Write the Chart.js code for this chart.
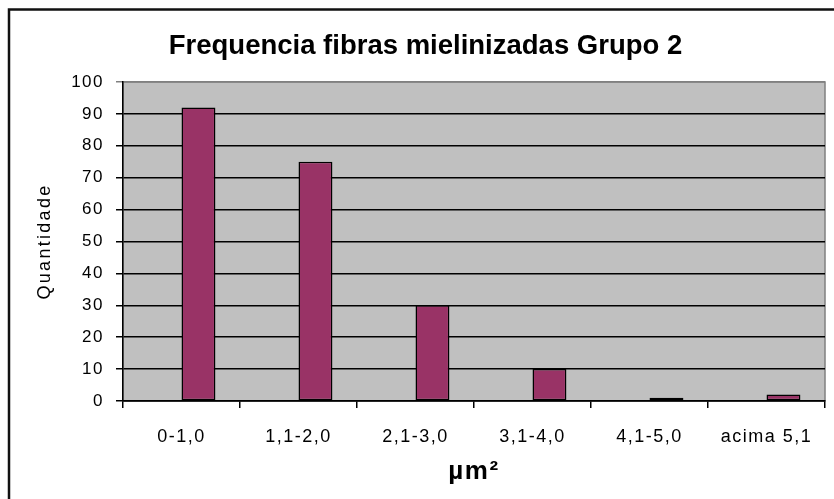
<!DOCTYPE html>
<html>
<head>
<meta charset="utf-8">
<script src="https://cdn.jsdelivr.net/npm/chart.js@4/dist/chart.umd.min.js"></script>
<style>
html,body{margin:0;padding:0;background:#fff;}
#wrap{width:834px;height:499px;position:relative;}
</style>
</head>
<body>
<div id="wrap"><canvas id="c" width="834" height="499"></canvas></div>
<script>
const chartTitle = "Frequencia fibras mielinizadas Grupo 2";
const categories = ["0-1,0", "1,1-2,0", "2,1-3,0", "3,1-4,0", "4,1-5,0", "acima 5,1"];
const quantidade = [92, 75, 30, 10, 1, 2];
const emptySeries = [null, null, null, null, null, null];
const yTicks = [0, 10, 20, 30, 40, 50, 60, 70, 80, 90, 100];
const xTitle = "µm²";
const yTitle = "Quantidade";

const FONT = "'Liberation Sans', Arial, sans-serif";

function withSpacing(obj, name, spacing, dx){
  if (!obj || obj['_wrapped_' + name]) return;
  const orig = obj[name].bind(obj);
  obj[name] = function(...args){
    const ctx = this.ctx || (this.chart && this.chart.ctx);
    const prev = ctx.letterSpacing;
    ctx.save();
    ctx.letterSpacing = spacing;
    if (dx) ctx.translate(dx, 0);
    const r = orig(...args);
    ctx.restore();
    ctx.letterSpacing = prev;
    return r;
  };
  obj['_wrapped_' + name] = true;
}

const stylePlugin = {
  id: 'excelStyle',
  beforeLayout(chart){ chart.ctx.letterSpacing = '1.5px'; },
  afterLayout(chart){
    withSpacing(chart.titleBlock, 'draw', '0px', 13);
    withSpacing(chart.scales.y, 'drawTitle', '2.3px', 0);
  },
  beforeDraw(chart){
    const ctx = chart.ctx;
    ctx.letterSpacing = '1.5px';
    const a = chart.chartArea;
    ctx.save();
    ctx.fillStyle = '#c0c0c0';
    ctx.fillRect(a.left, a.top, a.right - a.left, a.bottom - a.top);
    ctx.strokeStyle = '#808080';
    ctx.lineWidth = 1.5;
    ctx.strokeRect(a.left, a.top, a.right - a.left, a.bottom - a.top);
    ctx.restore();
  },
  afterDraw(chart){
    const ctx = chart.ctx;
    ctx.save();
    ctx.strokeStyle = '#111';
    ctx.lineWidth = 2.5;
    ctx.strokeRect(9, 9.5, 900, 600);
    ctx.restore();
  }
};

new Chart(document.getElementById('c'), {
  type: 'bar',
  data: {
    labels: categories,
    datasets: [
      { label: '', data: emptySeries },
      {
        label: yTitle,
        data: quantidade,
        backgroundColor: '#993366',
        borderColor: '#000',
        borderWidth: 1.5,
        borderSkipped: false
      }
    ]
  },
  options: {
    responsive: false,
    animation: false,
    devicePixelRatio: 1,
    categoryPercentage: 0.58,
    barPercentage: 1,
    layout: { padding: { left: 0, right: 9, top: 0, bottom: 0 } },
    plugins: {
      legend: { display: false },
      tooltip: { enabled: false },
      title: {
        display: true,
        text: chartTitle,
        color: '#000',
        font: { family: FONT, size: 27.5, weight: 'bold' },
        padding: { top: 30, bottom: 19 }
      }
    },
    scales: {
      x: {
        afterFit(s){ s.height = 98; },
        grid: { drawOnChartArea: false, drawTicks: true, tickLength: 7, color: '#000', lineWidth: 1.5 },
        border: { display: true, color: '#000', width: 1.5 },
        ticks: { color: '#000', font: { family: FONT, size: 18 }, padding: 18, maxRotation: 0 },
        title: { display: true, text: xTitle, color: '#000', font: { family: FONT, size: 26, weight: 'bold' }, padding: { top: 0, bottom: 12 } }
      },
      y: {
        min: 0,
        max: 100,
        afterFit(s){ s.width = 123; },
        afterBuildTicks(s){ s.ticks = yTicks.map(v => ({ value: v })); },
        grid: {
          tickLength: 7,
          lineWidth: 1.5,
          color: ctx => (ctx.tick && ctx.tick.value === 100) ? '#808080' : '#000'
        },
        border: { display: true, color: '#000', width: 1.5 },
        ticks: { color: '#000', font: { family: FONT, size: 17 }, padding: 12 },
        title: { display: true, text: yTitle, color: '#000', font: { family: FONT, size: 18 }, padding: { top: 34, bottom: 0 } }
      }
    }
  },
  plugins: [stylePlugin]
});
</script>
</body>
</html>
